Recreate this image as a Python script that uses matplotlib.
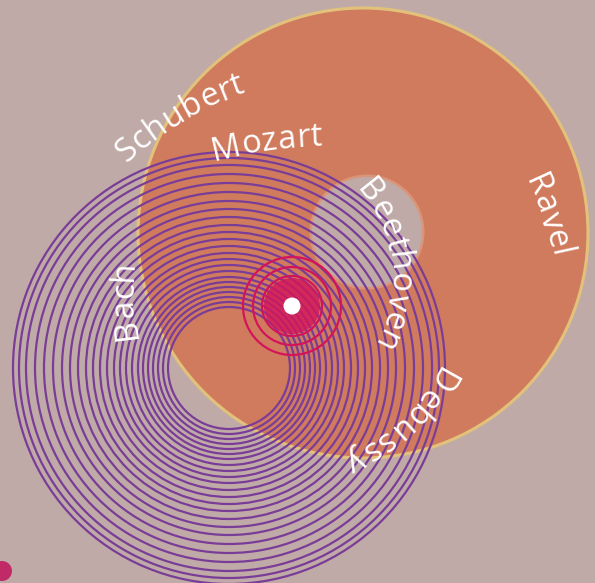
import numpy as np
import matplotlib
matplotlib.use('Agg')
import matplotlib.pyplot as plt
from matplotlib.patches import Circle
from matplotlib.font_manager import FontProperties

# data
composers = ['Schubert', 'Mozart', 'Bach', 'Beethoven', 'Debussy', 'Ravel']
ravel_radius = 225
beethoven_radius = 55
bach_radii = [61, 66, 71, 76, 81, 86, 91, 97, 103, 109, 115, 122, 129, 136,
              143, 151, 159, 167, 176, 185, 194, 203, 210, 216]
red_radii = [30, 39, 49]
red_core = 28

# layout (pixels, y down)
W, H = 595, 583
ravel_c = (363, 233)
beet_c = (367, 232)
bach_c = (229, 368)
red_c = (292, 306)

bg = '#c0aaa8'
orange = '#d07b5e'
purple = '#7a3d97'
red = '#d4145a'

# label placement: baseline midpoint, reading angle (deg, y down), arc radius
label_pos = {
    'Schubert': ((182, 121), -31, 320),
    'Mozart': ((268, 150), -8, 450),
    'Bach': ((133, 300), -92, 320),
    'Beethoven': ((390, 264), 84, 128),
    'Debussy': ((399, 418), 136, 190),
    'Ravel': ((541, 218), 71, 320),
}

fig = plt.figure(figsize=(W / 100, H / 100), dpi=100)
fig.patch.set_facecolor(bg)
ax = fig.add_axes([0, 0, 1, 1])
ax.set_xlim(0, W)
ax.set_ylim(H, 0)
ax.set_aspect('equal')
ax.axis('off')

# Ravel disc with yellow rim
ax.add_patch(Circle(ravel_c, ravel_radius, facecolor=orange, edgecolor='#e2c27a',
                    linewidth=2.2, zorder=1))
# Beethoven hole
ax.add_patch(Circle(beet_c, beethoven_radius + 2.5, facecolor='#da9579', edgecolor='none', zorder=2))
ax.add_patch(Circle(beet_c, beethoven_radius, facecolor=bg, edgecolor='none', zorder=2))

# Bach rings
for r in bach_radii:
    ax.add_patch(Circle(bach_c, r, fill=False, edgecolor=purple, linewidth=1.6, zorder=3))

# red rings + core
ax.add_patch(Circle(red_c, red_core, facecolor=red, edgecolor='none', alpha=0.8, zorder=4))
for r in red_radii:
    ax.add_patch(Circle(red_c, r, fill=False, edgecolor=red, linewidth=1.6, zorder=4))
ax.add_patch(Circle(red_c, 8.5, facecolor='white', edgecolor='none', zorder=5))

# corner dot
ax.add_patch(Circle((2, 571), 10, facecolor='#c02a66', edgecolor='none', zorder=5))

fp = FontProperties(family='Open Sans', size=23.5)
renderer = fig.canvas.get_renderer()


def arc_text(text, mid, phi, radius, spacing=0.5):
    widths = [0.0]
    for k in range(1, len(text) + 1):
        widths.append(renderer.get_text_width_height_descent(text[:k], fp, ismath=False)[0])
    total = widths[-1] + spacing * (len(text) - 1)
    ph = np.radians(phi)
    cx = mid[0] - radius * np.sin(ph)
    cy = mid[1] + radius * np.cos(ph)
    th_mid = np.arctan2(mid[1] - cy, mid[0] - cx)
    for k, ch in enumerate(text):
        s = (widths[k] + widths[k + 1]) / 2 + spacing * k - total / 2
        th = th_mid + s / radius
        x = cx + radius * np.cos(th)
        y = cy + radius * np.sin(th)
        rot = -np.degrees(th + np.pi / 2)
        ax.text(x, y, ch, rotation=rot, rotation_mode='anchor', ha='center',
                va='baseline', fontproperties=fp, color='white', zorder=6)


for name in composers:
    mid, phi, rad = label_pos[name]
    arc_text(name, mid, phi, rad)

fig.savefig('out.png', dpi=100, facecolor=bg)
